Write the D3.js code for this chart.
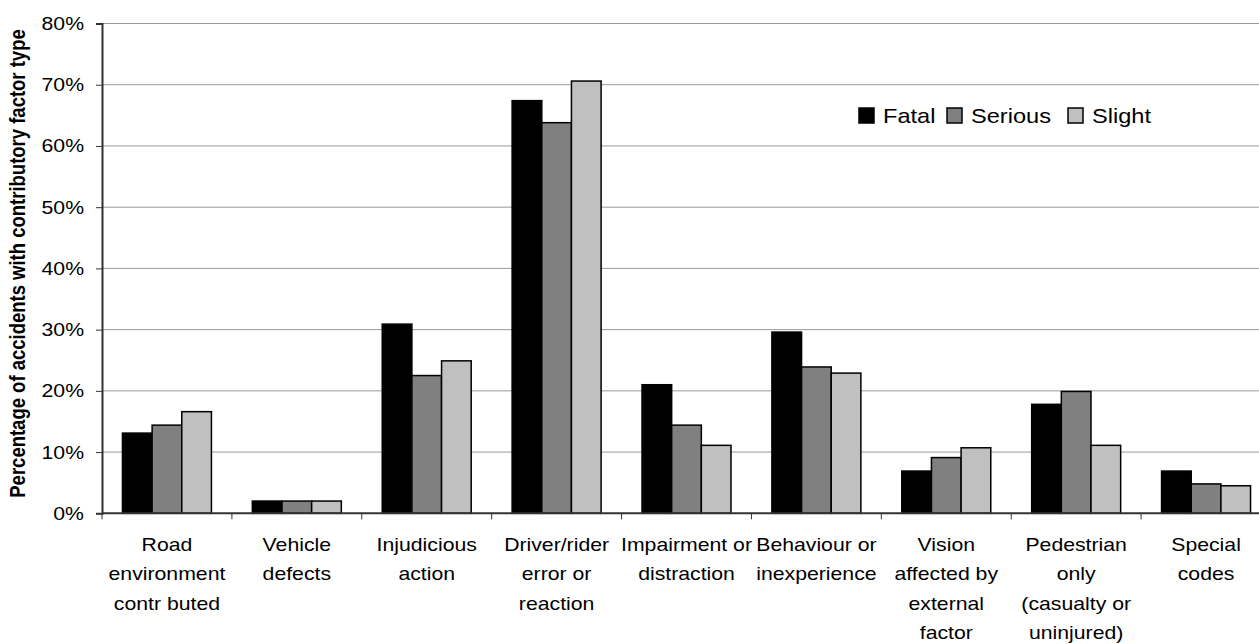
<!DOCTYPE html>
<html>
<head>
<meta charset="utf-8">
<script src="https://cdn.jsdelivr.net/npm/d3@7"></script>
<style>
  body { margin: 0; background: #fff; }
  svg { display: block; font-family: Arial, "Liberation Sans", sans-serif; }
</style>
</head>
<body>
<svg id="chart" width="1259" height="644"></svg>
<script>
// categories (each entry = lines of the label)
var categories = [
  ["Road", "environment", "contr buted"],
  ["Vehicle", "defects"],
  ["Injudicious", "action"],
  ["Driver/rider", "error or", "reaction"],
  ["Impairment or", "distraction"],
  ["Behaviour or", "inexperience"],
  ["Vision", "affected by", "external", "factor"],
  ["Pedestrian", "only", "(casualty or", "uninjured)"],
  ["Special", "codes"]
];
var seriesNames = ["Fatal", "Serious", "Slight"];
var seriesColors = ["#000000", "#808080", "#c0c0c0"];

// values in %
var fatal   = [13.1, 2.0, 30.9, 67.4, 21.0, 29.6, 6.9, 17.8, 6.9];
var serious = [14.4, 2.0, 22.5, 63.8, 14.4, 23.9, 9.1, 19.9, 4.8];
var slight  = [16.6, 2.0, 24.9, 70.6, 11.1, 22.9, 10.7, 11.1, 4.5];

var yTicks = [0, 10, 20, 30, 40, 50, 60, 70, 80];

var svg = d3.select("#chart");
// plot box (right side runs past the picture edge, like the original)
var plotL = 102, plotR = 1271, plotT = 23.5, plotB = 513.3;
var sx = 1.18; // text in the picture is stretched horizontally

var keys = categories.map(function(c){ return c.join(" "); });

var x0 = d3.scaleBand()
  .domain(keys)
  .range([plotL, plotR])
  .paddingInner(0.315)
  .paddingOuter(0.1575);

var x1 = d3.scaleBand()
  .domain(seriesNames)
  .range([0, x0.bandwidth()]);

var y = d3.scaleLinear().domain([0, 80]).range([plotB, plotT]);

// grid
svg.append("g").selectAll("line")
  .data(yTicks.filter(function(d){ return d > 0; }))
  .enter().append("line")
  .attr("x1", plotL).attr("x2", plotR)
  .attr("y1", function(d){ return y(d); })
  .attr("y2", function(d){ return y(d); })
  .attr("stroke", "#999")
  .attr("stroke-width", 1);

// bars
var data = [fatal, serious, slight];
var groups = svg.append("g").selectAll("g")
  .data(keys)
  .enter().append("g")
  .attr("transform", function(d){ return "translate(" + x0(d) + ",0)"; });

groups.selectAll("rect")
  .data(function(d, i){
    return seriesNames.map(function(s, j){ return {s: s, v: data[j][i], c: seriesColors[j]}; });
  })
  .enter().append("rect")
  .attr("x", function(d){ return x1(d.s); })
  .attr("width", x1.bandwidth())
  .attr("y", function(d){ return y(d.v); })
  .attr("height", function(d){ return plotB - y(d.v); })
  .attr("fill", function(d){ return d.c; })
  .attr("stroke", "#000")
  .attr("stroke-width", 1.5);

// y axis
var yAxis = svg.append("g")
  .attr("transform", "translate(" + plotL + ",0)")
  .call(d3.axisLeft(y).tickValues(yTicks).tickSize(6).tickFormat(function(d){ return d + "%"; }));
yAxis.select(".domain").attr("stroke", "#333").attr("stroke-width", 2);
yAxis.selectAll(".tick line").attr("stroke", "#333");
yAxis.selectAll(".tick text").remove();

svg.append("g").selectAll("text")
  .data(yTicks)
  .enter().append("text")
  .attr("transform", function(d){ return "translate(84," + (y(d) + 6.5) + ") scale(" + sx + ",1)"; })
  .attr("text-anchor", "end")
  .attr("font-size", 18)
  .attr("fill", "#000")
  .text(function(d){ return d + "%"; });

// x axis
svg.append("line")
  .attr("x1", plotL).attr("x2", plotR)
  .attr("y1", plotB).attr("y2", plotB)
  .attr("stroke", "#333").attr("stroke-width", 2);

var step = x0.step();
svg.append("g").selectAll("line")
  .data(d3.range(keys.length + 1))
  .enter().append("line")
  .attr("x1", function(i){ return plotL + i * step; })
  .attr("x2", function(i){ return plotL + i * step; })
  .attr("y1", plotB).attr("y2", plotB + 6)
  .attr("stroke", "#333").attr("stroke-width", 1);

var labels = svg.append("g").selectAll("g")
  .data(categories)
  .enter().append("g")
  .attr("transform", function(d, i){ return "translate(" + (x0(keys[i]) + x0.bandwidth() / 2) + ",0)"; });

labels.selectAll("text")
  .data(function(d){ return d; })
  .enter().append("text")
  .attr("transform", function(d, i){ return "translate(0," + (550.5 + i * 29.5) + ") scale(" + sx + ",1)"; })
  .attr("text-anchor", "middle")
  .attr("font-size", 18)
  .attr("fill", "#000")
  .text(function(d){ return d; });

// y label
svg.append("text")
  .attr("transform", "translate(25,263.5) rotate(-90) scale(1," + sx + ")")
  .attr("text-anchor", "middle")
  .attr("font-size", 18.5)
  .attr("font-weight", "bold")
  .attr("fill", "#000")
  .text("Percentage of accidents with contributory factor type");

// legend
var legendX = [859, 947, 1068];
var legend = svg.append("g").selectAll("g")
  .data(seriesNames)
  .enter().append("g")
  .attr("transform", function(d, i){ return "translate(" + legendX[i] + ",108)"; });
legend.append("rect")
  .attr("width", 15).attr("height", 15)
  .attr("fill", function(d, i){ return seriesColors[i]; })
  .attr("stroke", "#000").attr("stroke-width", 1.5);
legend.append("text")
  .attr("transform", "translate(24,15) scale(" + sx + ",1)")
  .attr("font-size", 20)
  .attr("fill", "#000")
  .text(function(d){ return d; });
</script>
</body>
</html>
